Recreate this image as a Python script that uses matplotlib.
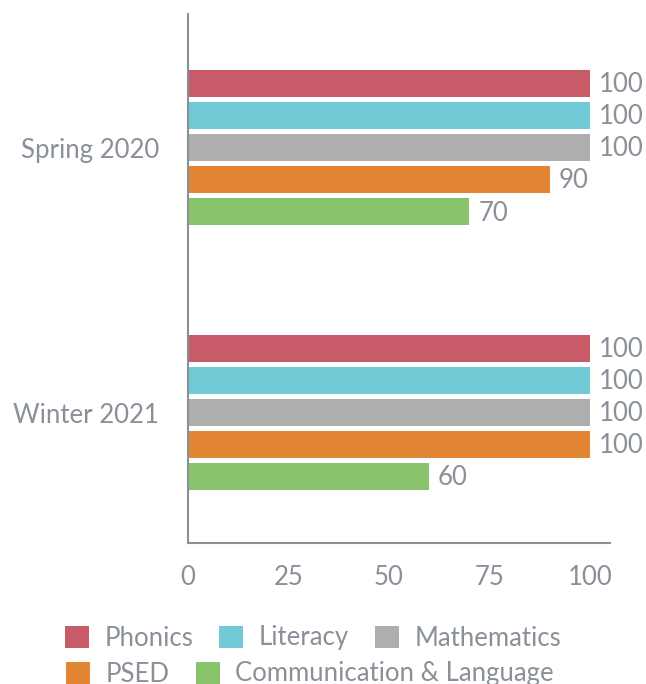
import numpy as np
import matplotlib.pyplot as plt

periods = ["Spring 2020", "Winter 2021"]
subjects = ["Phonics", "Literacy", "Mathematics", "PSED", "Communication & Language"]
scores = {
    "Phonics": [100, 100],
    "Literacy": [100, 100],
    "Mathematics": [100, 100],
    "PSED": [90, 100],
    "Communication & Language": [70, 60],
}
colors = ["#c75b67", "#72cad6", "#aeaeae", "#e28636", "#89c36b"]
ticks = [0, 25, 50, 75, 100]

grey = "#8a9099"
fs = 18.5
plt.rcParams['font.family'] = ['Lato', 'DejaVu Sans']

fig = plt.figure(figsize=(6.46, 6.84), dpi=100)
ax = fig.add_axes([188 / 646, 1 - 543 / 684, (610 - 188) / 646, (543 - 14) / 684])

y = np.arange(len(periods))
pitch = 0.1212
handles = []
for i, (name, c) in enumerate(zip(subjects, colors)):
    pos = y + (i - 2) * pitch + 0.006
    b = ax.barh(pos, scores[name], height=0.102, color=c, label=name)
    handles.append(b)
    for p, v in zip(pos, scores[name]):
        ax.text(v + 2.2, p + 0.004, str(v), va='center', ha='left', fontsize=fs, color=grey)

ax.set_xlim(0, 105)
ax.set_ylim(1.5, -0.5)
ax.set_yticks(y + 0.008)
ax.set_yticklabels(periods)
ax.set_xticks(ticks)
ax.tick_params(length=0, labelsize=fs, labelcolor=grey)
ax.tick_params(axis='x', pad=16)
ax.tick_params(axis='y', pad=21)
for s in ['top', 'right']:
    ax.spines[s].set_visible(False)
for s in ['left', 'bottom']:
    ax.spines[s].set_color(grey)
    ax.spines[s].set_linewidth(1.5)

kw = dict(frameon=False, fontsize=fs, labelcolor=grey, handlelength=0.95, handleheight=0.95,
          handletextpad=0.6, columnspacing=1.0, loc='center')
fig.legend(handles[:3], subjects[:3], ncol=3, bbox_to_anchor=(313 / 646, 1 - 638 / 684), **kw)
fig.legend(handles[3:], subjects[3:], ncol=2, bbox_to_anchor=(310 / 646, 1 - 674 / 684), **kw)

fig.savefig("out.png", dpi=100)
